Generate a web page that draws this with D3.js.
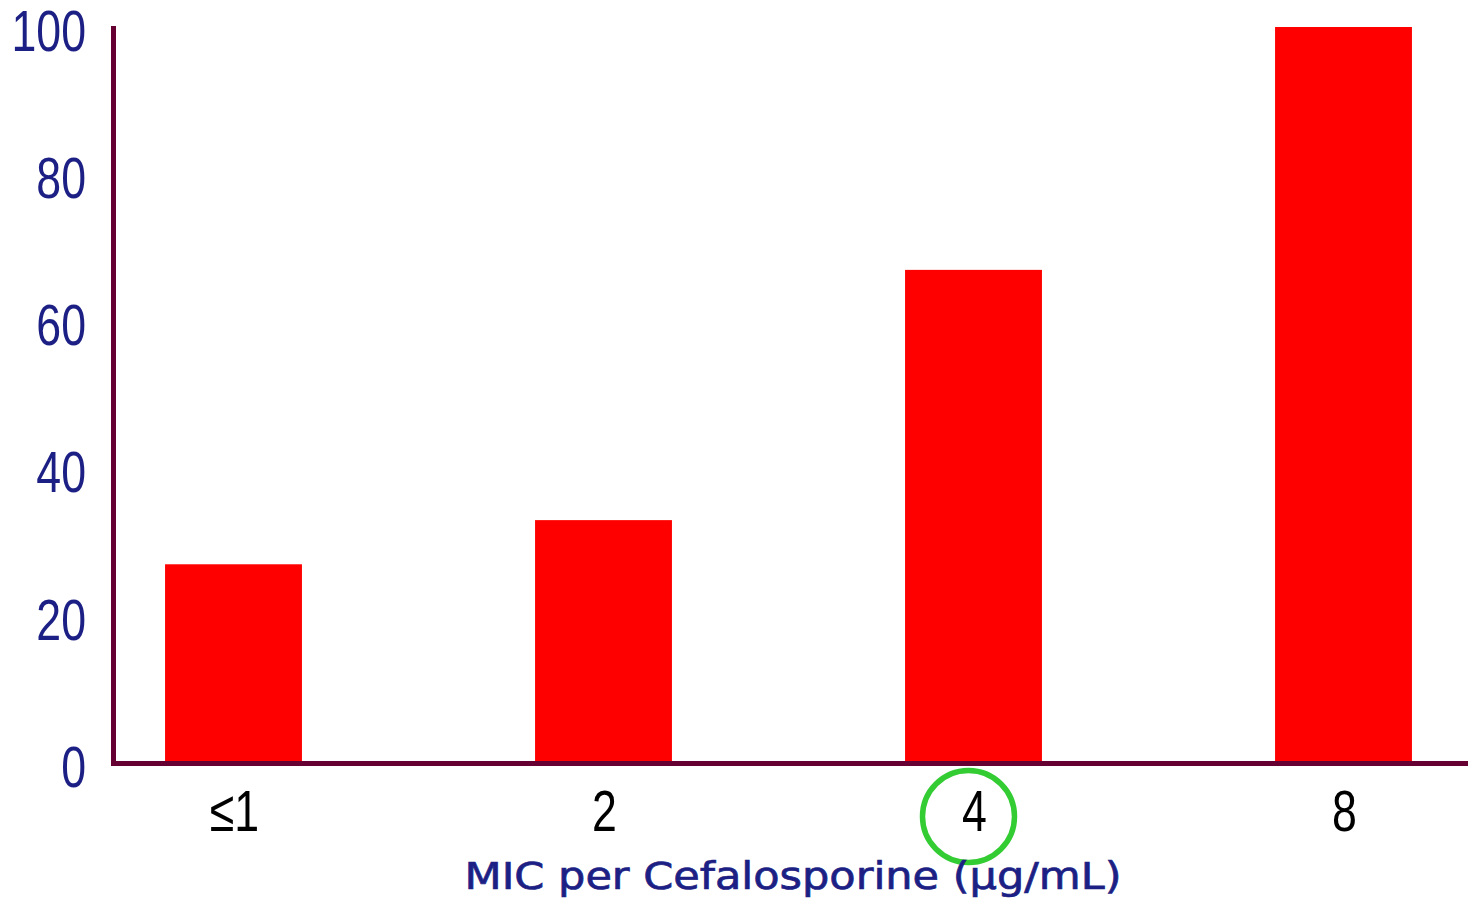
<!DOCTYPE html>
<html>
<head>
<meta charset="utf-8">
<script src="https://cdn.jsdelivr.net/npm/d3@7"></script>
<style>
  html, body { margin: 0; padding: 0; background: #fff; }
  svg { display: block; }
</style>
</head>
<body>
<div id="container"></div>
<script>
/* CONSTANTS AND GLOBALS */
const width = 1472,
      height = 906;

// data
const categories = ["≤1", "2", "4", "8"];
const values = [27, 33, 67, 100];
const yTicks = [0, 20, 40, 60, 80, 100];
const highlighted = "4";
const xTitle = "MIC per Cefalosporine (µg/mL)";

const axisColor = "#660033",
      labelColor = "#1c1f84",
      barColor = "#ff0000",
      narrow = 0.77; // no narrow font installed, squeeze the digits instead

const svg = d3.select("#container")
  .append("svg")
  .attr("width", width)
  .attr("height", height);

// + SCALES
const xScale = d3.scaleBand()
  .domain(categories)
  .range([48.5, 1528.5])
  .paddingInner(0.63)
  .paddingOuter(0.315);

const yScale = d3.scaleLinear()
  .domain([0, 100])
  .range([763, 27]);

// bars
svg.selectAll("rect.bar")
  .data(categories.map((c, i) => ({cat: c, val: values[i]})))
  .join("rect")
  .attr("class", "bar")
  .attr("x", d => xScale(d.cat))
  .attr("width", xScale.bandwidth())
  .attr("y", d => yScale(d.val))
  .attr("height", d => yScale(0) - yScale(d.val))
  .attr("fill", barColor);

// y axis (labels only, the line is drawn below)
const yAxis = d3.axisLeft(yScale).tickValues(yTicks).tickSize(0).tickPadding(0);
const yAxisGroup = svg.append("g")
  .attr("transform", "translate(86,3)")
  .call(yAxis);
yAxisGroup.select(".domain").remove();
yAxisGroup.selectAll("text")
  .attr("fill", labelColor)
  .attr("font-family", "'Liberation Sans', Arial, sans-serif")
  .attr("font-size", 58)
  .attr("dy", "0.35em")
  .attr("transform", `scale(${narrow},1)`);

// x axis labels
const xAxis = d3.axisBottom(xScale).tickSize(0).tickPadding(0);
const xAxisGroup = svg.append("g")
  .attr("transform", "translate(1,790)")
  .call(xAxis);
xAxisGroup.select(".domain").remove();
xAxisGroup.selectAll("text")
  .attr("fill", "#000")
  .attr("font-family", "'Liberation Sans', Arial, sans-serif")
  .attr("font-size", 58)
  .attr("dy", "0.71em")
  .attr("transform", `scale(${narrow},1)`);

// axis lines
svg.append("path")
  .attr("d", `M113.5,${yScale(100) - 1}V${yScale(0) + 0.5}H1468`)
  .attr("fill", "none")
  .attr("stroke", axisColor)
  .attr("stroke-width", 5);

// highlight circle round the "4" label
svg.append("circle")
  .attr("cx", xScale(highlighted) + xScale.bandwidth() / 2 - 5)
  .attr("cy", 816.5)
  .attr("r", 46)
  .attr("fill", "none")
  .attr("stroke", "#33cc33")
  .attr("stroke-width", 5.5);

// axis title
svg.append("text")
  .attr("x", 793)
  .attr("y", 889)
  .attr("text-anchor", "middle")
  .attr("fill", labelColor)
  .attr("stroke", labelColor)
  .attr("stroke-width", 0.7)
  .attr("font-family", "'DejaVu Sans', Verdana, sans-serif")
  .attr("font-size", 37)
  .attr("textLength", 657)
  .attr("lengthAdjust", "spacingAndGlyphs")
  .text(xTitle);
</script>
</body>
</html>
